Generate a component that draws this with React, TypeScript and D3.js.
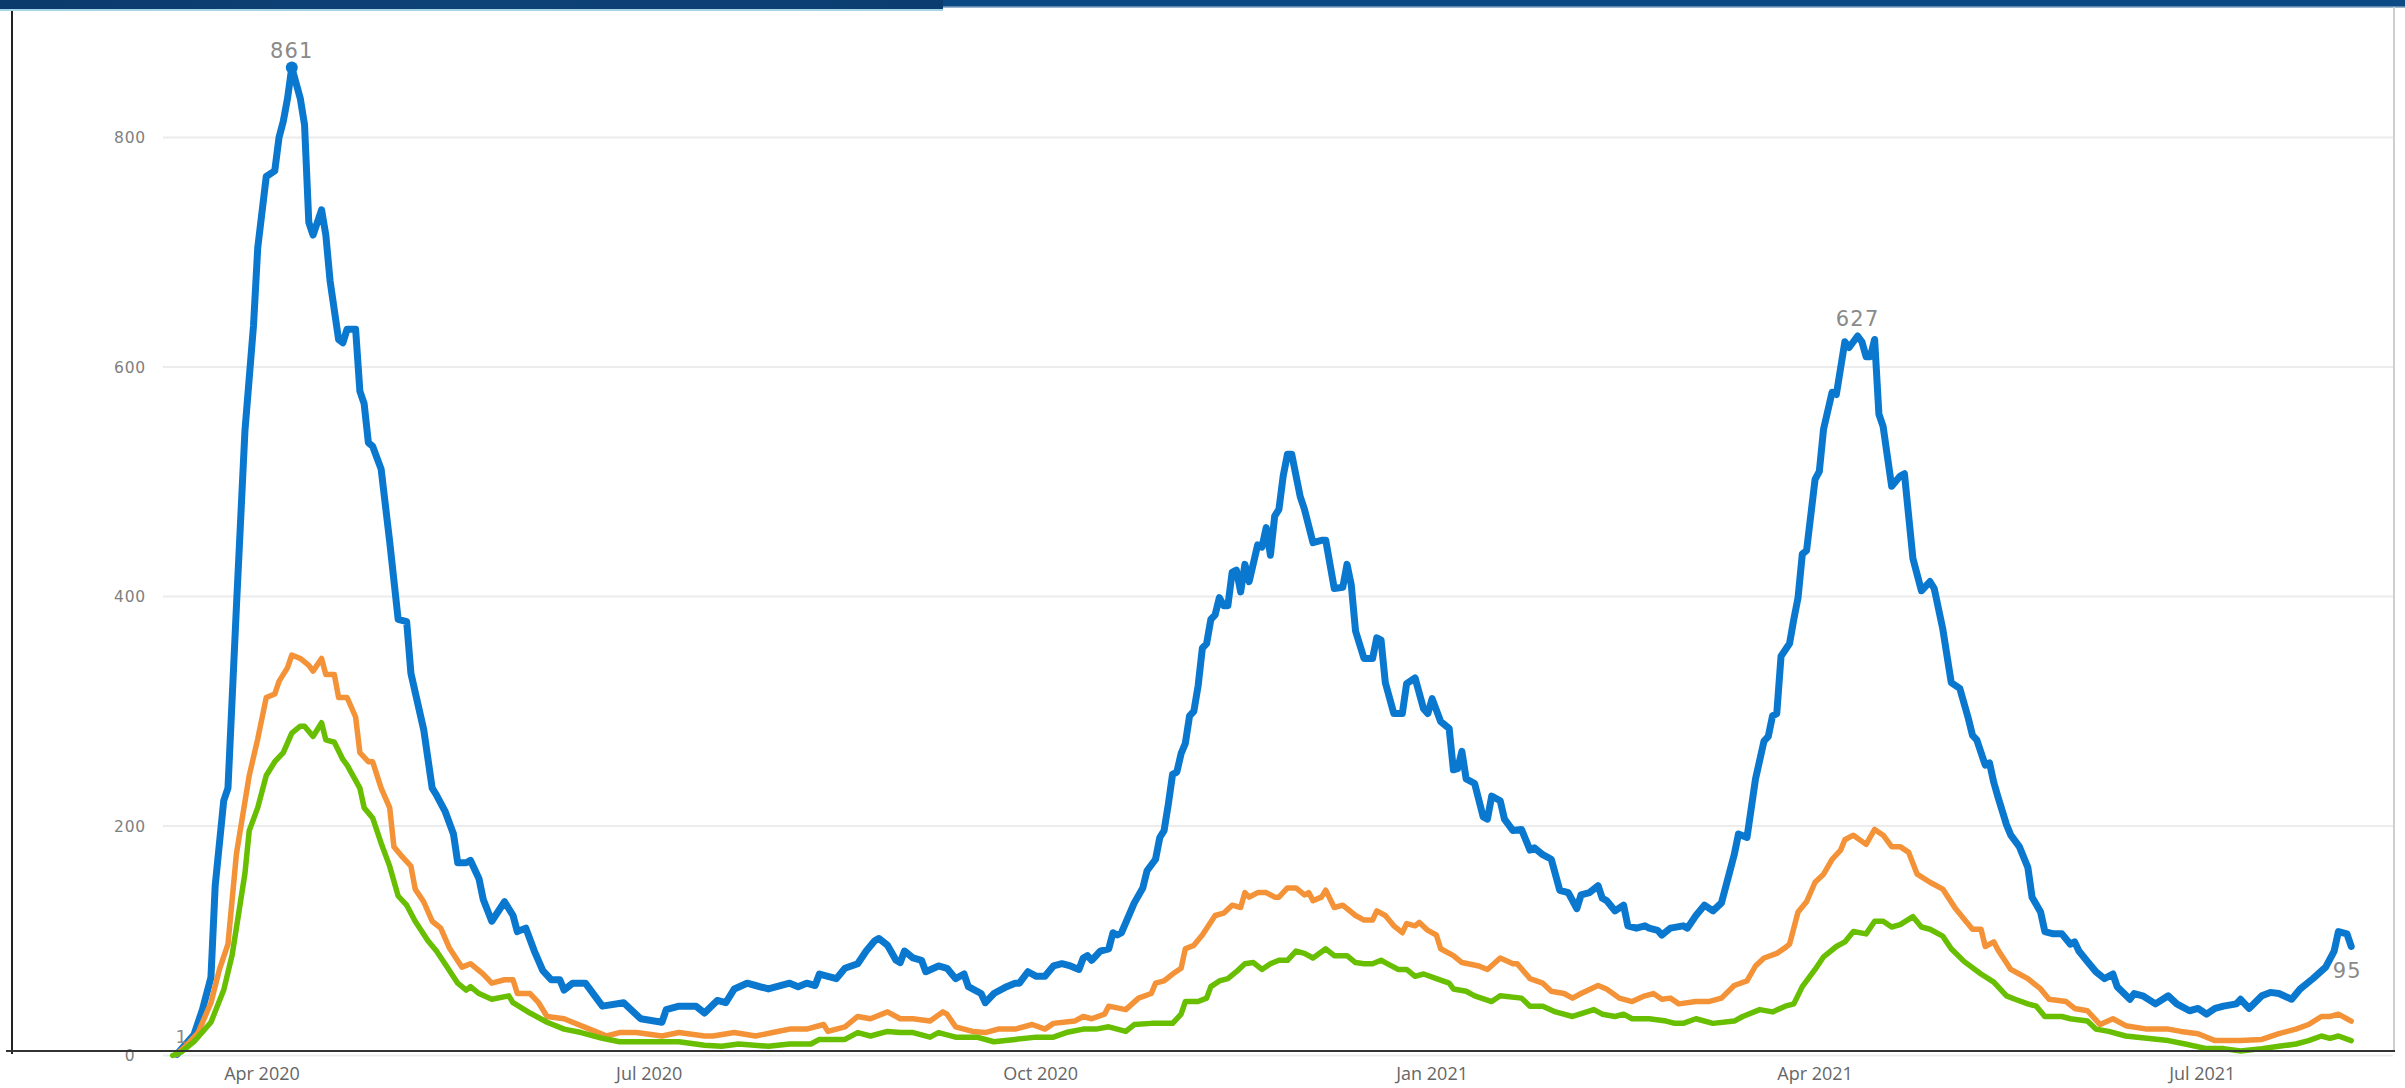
import React from "react";
import * as d3 from "d3";

// Day offsets are days since 2020-03-01 (UTC).
const START_MS = Date.UTC(2020, 2, 1);
const LAST_DAY = 522;

const blueSeries: [number, number][] = [
  [11,1],[15,18],[17,40],[19,68],[20,148],[22,222],[23,233],[25,392],[27,545],[29,636],[30,704],[32,766],[34,771],[35,800],[36,814],[37,834],[38,861],
  [40,834],[41,811],[42,726],[43,715],[45,737],[46,715],[47,675],[49,624],[50,621],[51,633],[53,633],[54,579],[55,568],[56,534],[57,531],[59,511],
  [61,448],[63,380],[65,378],[66,333],[69,284],[71,233],[72,227],[74,213],[76,193],[77,168],[79,168],[80,170],[82,154],[83,136],[85,117],[88,134],
  [90,122],[91,108],[93,111],[95,91],[97,74],[99,66],[101,66],[102,57],[104,63],[107,63],[111,43],[116,46],[120,32],[125,29],[126,40],[129,43],
  [133,43],[135,37],[138,48],[140,46],[142,58],[145,63],[147,61],[150,58],[155,63],[157,60],[159,63],[161,61],[162,71],[166,67],[168,76],[171,80],
  [173,91],[175,100],[176,102],[178,96],[180,83],[181,81],[182,91],[184,85],[186,83],[187,73],[190,78],[192,76],[194,67],[196,71],[197,60],[200,54],
  [201,46],[203,54],[206,60],[208,63],[209,63],[211,73],[213,69],[215,69],[217,78],[219,80],[221,78],[223,75],[224,85],[225,87],[226,83],[228,91],
  [230,93],[231,107],[232,105],[233,107],[236,133],[238,146],[239,161],[241,171],[242,190],[243,196],[244,219],[245,245],[246,247],[247,263],[248,272],
  [249,296],[250,300],[251,322],[252,355],[253,359],[254,380],[255,384],[256,399],[257,392],[258,392],[259,421],[260,423],[261,404],[262,428],[263,413],
  [265,445],[266,443],[267,460],[268,436],[269,470],[270,476],[271,505],[272,524],[273,524],[275,487],[276,476],[278,447],[280,449],[281,449],[283,407],
  [285,408],[286,428],[287,410],[288,370],[290,346],[292,346],[293,364],[294,362],[295,325],[297,298],[299,298],[300,324],[302,329],[304,302],[305,298],
  [306,311],[308,291],[310,285],[311,249],[312,250],[313,265],[314,241],[316,237],[318,208],[319,206],[320,226],[322,222],[323,206],[325,196],[327,197],
  [329,179],[330,181],[332,175],[334,171],[336,144],[338,142],[340,128],[341,140],[343,142],[345,148],[346,137],[347,135],[349,126],[351,131],[352,113],
  [354,111],[356,113],[357,111],[359,109],[360,105],[362,111],[365,113],[366,111],[368,122],[370,131],[372,126],[374,133],[376,161],[377,175],[378,193],
  [380,190],[382,241],[384,274],[385,278],[386,296],[387,298],[388,348],[390,359],[391,380],[392,399],[393,437],[394,440],[396,502],[397,509],[398,546],
  [400,578],[401,576],[403,622],[404,617],[406,627],[407,622],[408,609],[409,609],[410,624],[411,559],[412,548],[414,496],[416,505],[417,507],[419,433],
  [421,405],[423,413],[424,407],[426,372],[428,325],[430,320],[432,294],[433,279],[434,275],[436,253],[437,255],[438,238],[439,225],[441,201],[442,192],
  [444,182],[446,164],[447,138],[449,125],[450,108],[452,106],[454,106],[456,97],[457,99],[458,91],[460,82],[462,73],[464,67],[466,71],[467,60],[470,49],
  [471,54],[473,52],[476,45],[479,52],[481,45],[484,39],[486,41],[488,36],[490,41],[492,43],[495,45],[496,49],[498,41],[501,52],[503,55],[505,54],
  [508,49],[510,58],[513,67],[516,77],[518,91],[519,108],[521,106],[522,95],
];

const orangeSeries: [number, number][] = [
  [11,1],[13,8],[16,20],[19,46],[21,75],[23,97],[25,176],[28,244],[30,276],[32,312],[34,315],[35,326],[37,338],[38,349],[40,346],[42,340],[43,335],
  [45,346],[46,332],[48,332],[49,312],[51,312],[53,295],[54,264],[56,256],[57,256],[59,233],[61,216],[62,182],[64,173],[66,165],[67,145],[69,134],
  [71,117],[73,111],[75,94],[78,77],[80,80],[83,71],[85,63],[88,66],[90,66],[91,54],[94,54],[96,46],[98,34],[102,32],[104,29],[108,23],[112,17],
  [115,20],[119,20],[125,17],[129,20],[135,17],[137,17],[142,20],[147,17],[151,20],[155,23],[159,23],[163,27],[164,21],[168,25],[171,34],[174,32],
  [178,38],[181,32],[184,32],[188,30],[191,38],[192,36],[194,25],[198,21],[201,20],[204,23],[208,23],[212,27],[215,23],[217,28],[222,30],[224,34],
  [226,32],[229,36],[230,43],[234,40],[237,50],[240,54],[241,63],[243,65],[245,71],[247,76],[248,93],[250,96],[252,105],[255,122],[257,124],[259,131],
  [261,129],[262,142],[263,138],[265,142],[267,142],[269,138],[270,138],[272,146],[274,146],[276,140],[277,142],[278,135],[280,138],[281,144],[283,129],
  [285,131],[288,122],[290,118],[292,118],[293,126],[295,122],[297,113],[299,107],[300,115],[302,113],[303,116],[305,109],[307,105],[308,93],[311,87],
  [313,81],[317,78],[319,75],[322,85],[325,80],[326,80],[329,67],[332,63],[334,56],[337,54],[339,50],[341,54],[345,61],[347,58],[350,50],[353,47],
  [356,52],[358,54],[360,49],[362,50],[364,45],[368,47],[371,47],[374,50],[377,61],[380,65],[382,78],[384,85],[387,89],[389,94],[390,97],[392,125],
  [394,134],[396,151],[398,158],[400,171],[402,179],[403,188],[405,192],[408,184],[410,197],[412,192],[414,182],[416,182],[418,177],[420,158],[423,151],
  [426,145],[429,128],[431,119],[433,110],[435,110],[436,95],[438,99],[439,92],[442,75],[444,71],[446,67],[449,58],[451,49],[455,47],[457,41],[460,39],
  [463,27],[466,32],[469,26],[474,23],[479,23],[482,21],[486,19],[490,13],[496,13],[501,14],[505,19],[509,23],[512,27],[515,34],[517,34],[519,36],[522,30],
];

const greenSeries: [number, number][] = [
  [10,0],[12,3],[15,12],[19,29],[22,57],[24,88],[27,159],[28,196],[30,216],[32,244],[34,256],[36,264],[38,281],[40,287],[41,287],[43,278],[45,290],
  [46,275],[48,273],[50,258],[51,253],[54,233],[55,216],[57,207],[59,185],[61,165],[63,139],[65,131],[67,117],[70,100],[72,91],[74,80],[77,63],[79,57],
  [80,60],[82,54],[85,49],[89,52],[90,46],[94,37],[98,29],[102,23],[106,20],[111,15],[115,12],[120,12],[129,12],[135,9],[139,8],[143,10],[150,8],
  [155,10],[160,10],[162,14],[168,14],[171,20],[174,17],[178,21],[181,20],[184,20],[188,16],[190,20],[194,16],[199,16],[203,12],[208,14],[213,16],
  [217,16],[220,20],[224,23],[227,23],[230,25],[234,21],[236,27],[240,28],[242,28],[245,28],[247,36],[248,47],[251,47],[253,50],[254,60],[256,65],
  [258,67],[260,73],[262,80],[264,81],[266,75],[268,80],[270,83],[272,83],[274,91],[276,89],[278,85],[281,93],[283,87],[286,87],[288,81],[290,80],
  [292,80],[294,83],[295,81],[298,75],[300,75],[302,69],[304,71],[307,67],[310,63],[311,58],[314,56],[316,52],[320,47],[322,52],[327,50],[329,43],
  [332,43],[335,38],[339,34],[344,40],[346,36],[349,34],[351,36],[353,32],[357,32],[361,30],[363,28],[365,28],[368,32],[372,28],[377,30],[379,34],
  [383,40],[386,38],[389,43],[391,45],[393,60],[396,75],[398,86],[401,95],[403,99],[405,108],[408,106],[410,117],[412,117],[414,112],[416,114],[419,121],
  [421,112],[423,110],[426,104],[428,93],[431,82],[435,71],[438,64],[441,52],[443,49],[446,45],[448,43],[450,34],[454,34],[456,32],[460,30],[462,23],
  [465,21],[469,17],[474,15],[479,13],[483,10],[488,6],[492,6],[496,4],[501,6],[505,8],[509,10],[512,13],[515,17],[517,15],[519,17],[522,13],
];

const yTicks = [0, 200, 400, 600, 800];
const xTickDates = ["2020-04-01", "2020-07-01", "2020-10-01", "2021-01-01", "2021-04-01", "2021-07-01"];
// Data labels on the blue series: [day, placement]
const blueLabels: [number, string][] = [[11, "above"], [38, "above"], [406, "above"], [522, "below"]];

const COLORS = { blue: "#0a78cf", orange: "#f39237", green: "#68be00" };

const toDate = (d: number) => new Date(START_MS + d * 86400000);

export default function App() {
  const W = 2405, H = 1088;
  const x = d3.scaleUtc().domain([toDate(0), toDate(LAST_DAY)]).range([130.1, 2351.2]);
  const y = d3.scaleLinear().domain([0, 800]).range([1055.5, 137.5]);
  const line = d3.line<[number, number]>()
    .x((d) => x(toDate(d[0])))
    .y((d) => y(d[1]))
    .curve(d3.curveLinear);
  const fmt = d3.utcFormat("%b %Y");
  const peak = blueSeries.reduce((a, b) => (b[1] > a[1] ? b : a));
  const gridX0 = 163, gridX1 = 2393;

  return (
    <svg width={W} height={H} style={{ position: "absolute", left: 0, top: 0, display: "block", background: "#fff" }}>
      <defs>
        <linearGradient id="bandGrad" x1="0" x2="1" y1="0" y2="0">
          <stop offset="0" stopColor="#0b3a6c" />
          <stop offset="0.5" stopColor="#0e4378" />
          <stop offset="1" stopColor="#0b3d70" />
        </linearGradient>
      </defs>
      <rect x={0} y={0} width={W} height={H} fill="#fff" />
      {/* top banner */}
      <rect x={943} y={0} width={W - 943} height={6.5} fill="#0b4a84" />
      <rect x={943} y={6.5} width={W - 943} height={1} fill="#3d6f9c" />
      <rect x={0} y={0} width={943} height={9} fill="url(#bandGrad)" />
      <rect x={0} y={9} width={943} height={2} fill="#a6d5e6" />

      {/* gridlines */}
      {yTicks.map((t) => (
        <line key={t} x1={gridX0} x2={gridX1} y1={y(t)} y2={y(t)} stroke="#ececec" strokeWidth={2} />
      ))}
      {/* y labels */}
      {yTicks.map((t) => (
        <text key={"l" + t} x={130} y={y(t)} dy="0.36em" textAnchor="middle" fontFamily="DejaVu Sans" fontSize={15.5} fill="#808080" letterSpacing={0.8}>
          {t}
        </text>
      ))}
      {/* x labels */}
      {xTickDates.map((s) => {
        const dt = new Date(s + "T00:00:00Z");
        return (
          <text key={s} x={x(dt)} y={1080} textAnchor="middle" fontFamily="Open Sans" fontSize={18} fill="#666">
            {fmt(dt)}
          </text>
        );
      })}

      {/* frame lines */}
      <line x1={2394} x2={2394} y1={7} y2={1051} stroke="#cfcfcf" strokeWidth={2} />
      <line x1={12} x2={12} y1={11} y2={1054} stroke="#222" strokeWidth={2} />

      {/* series */}
      <path d={line(blueSeries) || ""} fill="none" stroke={COLORS.blue} strokeWidth={7} strokeLinejoin="round" strokeLinecap="round" />
      <path d={line(orangeSeries) || ""} fill="none" stroke={COLORS.orange} strokeWidth={5.5} strokeLinejoin="round" strokeLinecap="round" />
      <path d={line(greenSeries) || ""} fill="none" stroke={COLORS.green} strokeWidth={5.5} strokeLinejoin="round" strokeLinecap="round" />

      <line x1={6} x2={2395} y1={1051} y2={1051} stroke="#333" strokeWidth={2} />

      {/* peak marker */}
      <circle cx={x(toDate(peak[0]))} cy={y(peak[1])} r={6} fill={COLORS.blue} />

      {/* data labels */}
      {blueLabels.map(([day, pos]) => {
        const pt = blueSeries.find((p) => p[0] === day)!;
        const px = x(toDate(pt[0]));
        const py = y(pt[1]);
        const small = pt[1] < 10;
        return (
          <text key={"dl" + day} x={px + (small ? 5 : pos === "below" ? -4 : 0)} y={pos === "below" ? py + 32 : py - (small ? 11 : 10)}
            textAnchor="middle" fontFamily="DejaVu Sans" fontSize={small ? 18 : 21} fill="#8a8a8a" letterSpacing={1.2}>
            {pt[1]}
          </text>
        );
      })}
    </svg>
  );
}
